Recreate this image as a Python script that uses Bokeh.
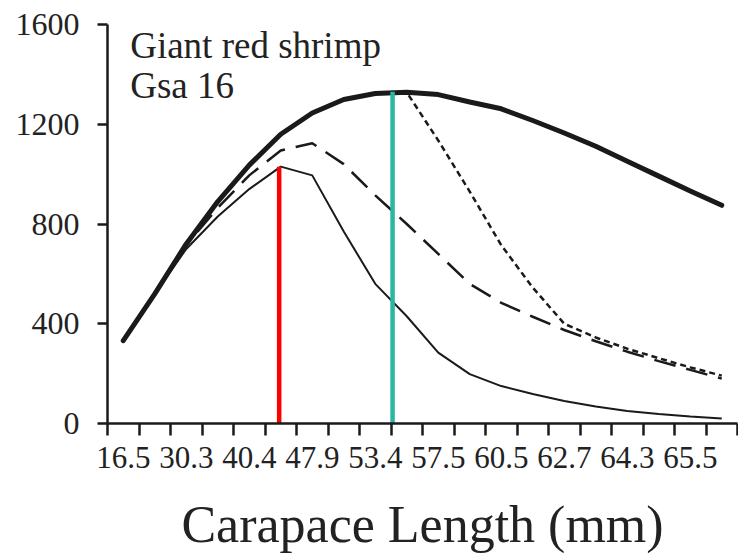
from bokeh.plotting import figure
from bokeh.models import Range1d, FixedTicker, Label, ColumnDataSource
from bokeh.embed import file_html
from bokeh.resources import INLINE

# ---- data ----
tick_labels = ["16.5", "30.3", "40.4", "47.9", "53.4", "57.5", "60.5", "62.7", "64.3", "65.5"]
n_classes = 20  # size classes; every other one is labelled

thick = [332, 520, 720, 890, 1036, 1160, 1245, 1299, 1323, 1328,
         1319, 1289, 1262, 1215, 1165, 1112, 1052, 992, 932, 875]
dotted = [332, 520, 720, 890, 1036, 1160, 1245, 1299, 1323, 1328,
          1135, 930, 715, 545, 400, 345, 300, 262, 225, 192]
dashed = [332, 520, 715, 865, 995, 1095, 1124, 1040, 915, 800,
          680, 560, 484, 428, 375, 330, 288, 250, 215, 180]
thin = [332, 520, 700, 830, 940, 1030, 995, 770, 560, 430,
        284, 198, 150, 118, 90, 68, 50, 38, 28, 20]

marker_x = [5.45, 9.05]
marker_top = [1030, 1330]
marker_colors = ["#ff0000", "#2bb5a2"]

y_ticks = [0, 400, 800, 1200, 1600]

# ---- figure ----
xs = [i + 0.5 for i in range(n_classes)]
src = ColumnDataSource(dict(x=xs, thick=thick, dotted=dotted, dashed=dashed, thin=thin))

p = figure(width=738, height=555, output_backend="svg", toolbar_location=None,
           x_range=Range1d(0, n_classes), y_range=Range1d(0, 1600),
           min_border_left=107, min_border_right=1, min_border_top=24, min_border_bottom=132)
p.outline_line_color = None
p.xgrid.visible = False
p.ygrid.visible = False
p.background_fill_color = "white"
p.border_fill_color = "white"

FONT = "'Liberation Serif', 'Times New Roman', serif"
AX = "#1a1a1a"

# x axis: labels at every other class centre, tick marks at class boundaries
label_pos = [2 * i + 0.5 for i in range(len(tick_labels))]
xa = p.xaxis[0]
xa.ticker = FixedTicker(ticks=label_pos, minor_ticks=list(range(n_classes + 1)))
xa.major_label_overrides = {pos: lab for pos, lab in zip(label_pos, tick_labels)}
xa.major_tick_out = 0
xa.major_tick_in = 0
xa.minor_tick_out = 12
xa.minor_tick_in = 0
xa.minor_tick_line_width = 2.5
xa.minor_tick_line_color = AX
xa.axis_line_width = 2.5
xa.axis_line_color = AX
xa.major_label_text_font = FONT
xa.major_label_text_font_size = "31px"
xa.major_label_text_color = "#222222"
xa.major_label_standoff = 11
xa.axis_label = "Carapace Length (mm)"
xa.axis_label_text_font = FONT
xa.axis_label_text_font_size = "52px"
xa.axis_label_text_font_style = "normal"
xa.axis_label_text_color = "#222222"
xa.axis_label_standoff = 25

ya = p.yaxis[0]
ya.ticker = FixedTicker(ticks=y_ticks)
ya.major_tick_out = 10
ya.major_tick_in = 0
ya.major_tick_line_width = 2.5
ya.major_tick_line_color = AX
ya.minor_tick_line_color = None
ya.axis_line_width = 2.5
ya.axis_line_color = AX
ya.major_label_text_font = FONT
ya.major_label_text_font_size = "32px"
ya.major_label_text_color = "#222222"
ya.major_label_standoff = 18

# lines
p.line("x", "thin", source=src, line_color=AX, line_width=2)
p.line("x", "dashed", source=src, line_color=AX, line_width=2.5, line_dash="22 11")
p.line("x", "dotted", source=src, line_color=AX, line_width=2.5, line_dash="6 4")
p.line("x", "thick", source=src, line_color=AX, line_width=5, line_cap="round", line_join="round")

# vertical markers
p.segment(x0=marker_x, y0=[0, 0], x1=marker_x, y1=marker_top, line_color=marker_colors, line_width=4.5)

# annotation text
p.add_layout(Label(x=0.72, y=1515, text="Giant red shrimp", text_font=FONT,
                   text_font_size="37px", text_color="#222222", text_baseline="alphabetic"))
p.add_layout(Label(x=0.72, y=1355, text="Gsa 16", text_font=FONT,
                   text_font_size="37px", text_color="#222222", text_baseline="alphabetic"))

open("out.html", "w").write(file_html(p, INLINE))
